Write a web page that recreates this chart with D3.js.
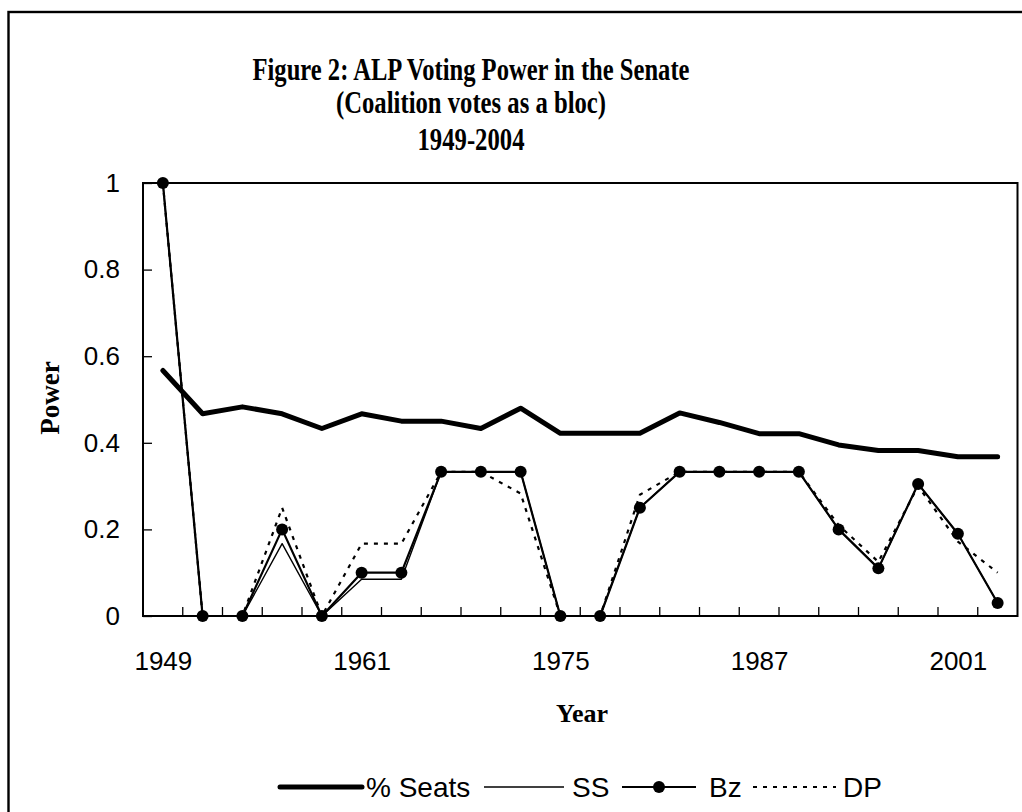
<!DOCTYPE html>
<html>
<head>
<meta charset="utf-8">
<script src="https://cdnjs.cloudflare.com/ajax/libs/d3/7.8.5/d3.min.js"></script>
<style>
  body { margin: 0; background: #fff; }
  svg { display: block; }
</style>
</head>
<body>
<svg id="chart"></svg>
<script>
// election years (category axis)
var years = [1949, 1951, 1953, 1955, 1958, 1961, 1964, 1967, 1970, 1974, 1975,
             1977, 1980, 1983, 1984, 1987, 1990, 1993, 1996, 1998, 2001, 2004];
var yearLabels = [1949, 1961, 1975, 1987, 2001];
var powerTicks = [0, 0.2, 0.4, 0.6, 0.8, 1];

var seats = [0.567, 0.467, 0.483, 0.467, 0.433, 0.467, 0.45, 0.45, 0.433, 0.48, 0.422,
             0.422, 0.422, 0.469, 0.447, 0.421, 0.421, 0.395, 0.382, 0.382, 0.368, 0.368];
var ss    = [1, 0, 0, 0.167, 0, 0.085, 0.085, 0.333, 0.333, 0.333, 0,
             0, 0.25, 0.333, 0.333, 0.333, 0.333, 0.2, 0.11, 0.305, 0.19, 0.03];
var bz    = [1, 0, 0, 0.2, 0, 0.1, 0.1, 0.333, 0.333, 0.333, 0,
             0, 0.25, 0.333, 0.333, 0.333, 0.333, 0.2, 0.11, 0.305, 0.19, 0.03];
var dp    = [1, 0, 0, 0.25, 0, 0.167, 0.167, 0.333, 0.333, 0.283, 0,
             0, 0.28, 0.333, 0.333, 0.333, 0.333, 0.21, 0.125, 0.3, 0.172, 0.1];

var seriesNames = ["% Seats", "SS", "Bz", "DP"];

var width = 1022, height = 812;
var svg = d3.select("#chart").attr("width", width).attr("height", height);

// outer chart frame (runs off the right/bottom of the picture)
svg.append("rect")
    .attr("x", 8.5).attr("y", 12)
    .attr("width", 1100).attr("height", 900)
    .style("fill", "none").style("stroke", "#000").style("stroke-width", 2.4);

var plot = {left: 143, top: 183, right: 1017.5, bottom: 616};

var x = d3.scalePoint()
    .domain(years)
    .range([plot.left, plot.right])
    .padding(0.5);
var y = d3.scaleLinear()
    .domain([0, 1])
    .range([plot.bottom, plot.top]);
var step = x.step();

// titles
var titleLines = [
  {text: "Figure 2: ALP Voting Power in the Senate", y: 80, len: 437},
  {text: "(Coalition votes as a bloc)", y: 113, len: 270},
  {text: "1949-2004", y: 150, len: 107}
];
svg.selectAll(".main_title")
    .data(titleLines)
    .enter().append("text")
    .attr("class", "main_title")
    .attr("x", 471)
    .attr("y", d => d.y)
    .attr("text-anchor", "middle")
    .attr("textLength", d => d.len)
    .attr("lengthAdjust", "spacingAndGlyphs")
    .style("font-family", "'Liberation Serif', 'Times New Roman', serif")
    .style("font-weight", "bold")
    .style("font-size", "31px")
    .text(d => d.text);

// plot frame
svg.append("rect")
    .attr("x", plot.left).attr("y", plot.top)
    .attr("width", plot.right - plot.left).attr("height", plot.bottom - plot.top)
    .style("fill", "none").style("stroke", "#000").style("stroke-width", 2);

// y axis, ticks point inward
var yAxis = svg.append("g")
    .attr("transform", "translate(" + plot.left + ",0)")
    .call(d3.axisLeft(y).tickValues(powerTicks).tickSize(-9).tickPadding(23)
      .tickFormat(d3.format("~g")));
yAxis.select(".domain").remove();
yAxis.selectAll("line").style("stroke", "#000").style("stroke-width", 1.3);
yAxis.selectAll("text")
    .style("font-family", "'Liberation Sans', Arial, sans-serif")
    .style("font-size", "26px")
    .style("fill", "#000");

// x axis labels
var xAxis = svg.append("g")
    .attr("transform", "translate(0," + plot.bottom + ")")
    .call(d3.axisBottom(x).tickValues(yearLabels).tickSize(0).tickPadding(36));
xAxis.select(".domain").remove();
xAxis.selectAll("text")
    .style("font-family", "'Liberation Sans', Arial, sans-serif")
    .style("font-size", "26px")
    .style("fill", "#000");

// x tick marks sit between categories
svg.append("g").selectAll("line")
    .data(years.slice(0, -1))
    .enter().append("line")
    .attr("x1", d => x(d) + step / 2)
    .attr("x2", d => x(d) + step / 2)
    .attr("y1", plot.bottom)
    .attr("y2", plot.bottom - 9)
    .style("stroke", "#000").style("stroke-width", 1.3);

// axis titles
svg.append("text")
    .attr("transform", "translate(59,398) rotate(-90)")
    .attr("text-anchor", "middle")
    .style("font-family", "'Liberation Serif', 'Times New Roman', serif")
    .style("font-weight", "bold")
    .style("font-size", "27px")
    .text("Power");
svg.append("text")
    .attr("x", 582)
    .attr("y", 722)
    .attr("text-anchor", "middle")
    .style("font-family", "'Liberation Serif', 'Times New Roman', serif")
    .style("font-weight", "bold")
    .style("font-size", "26px")
    .text("Year");

// series lines
var line = d3.line()
    .x((d, i) => x(years[i]))
    .y(d => y(d));

var styles = [
  {data: seats, width: 5, dash: null},
  {data: ss, width: 1.4, dash: null},
  {data: bz, width: 2.2, dash: null},
  {data: dp, width: 2.2, dash: "4,6"}
];

styles.forEach(function(s) {
  svg.append("path")
      .datum(s.data)
      .attr("d", line)
      .style("fill", "none")
      .style("stroke", "#000")
      .style("stroke-width", s.width)
      .style("stroke-linejoin", "round")
      .style("stroke-linecap", s.dash ? "butt" : "round")
      .style("stroke-dasharray", s.dash);
  if (s.data === bz) {
    svg.append("g").selectAll("circle")
        .data(bz)
        .enter().append("circle")
        .attr("cx", (d, i) => x(years[i]))
        .attr("cy", d => y(d))
        .attr("r", 6)
        .style("fill", "#000");
  }
});

// legend
var legendItems = [
  {x1: 280, x2: 362, tx: 366},
  {x1: 484, x2: 564, tx: 572},
  {x1: 622, x2: 696, tx: 709},
  {x1: 753, x2: 836, tx: 843}
];
var ly = 787;
var legend = svg.selectAll("g.legend")
    .data(legendItems)
    .enter().append("g")
    .attr("class", "legend");
legend.append("line")
    .attr("x1", d => d.x1).attr("x2", d => d.x2)
    .attr("y1", ly).attr("y2", ly)
    .style("stroke", "#000")
    .style("stroke-width", (d, i) => styles[i].width)
    .style("stroke-linecap", (d, i) => i == 0 ? "round" : "butt")
    .style("stroke-dasharray", (d, i) => styles[i].dash);
legend.filter((d, i) => i == 2).append("circle")
    .attr("cx", d => (d.x1 + d.x2) / 2)
    .attr("cy", ly)
    .attr("r", 6)
    .style("fill", "#000");
legend.append("text")
    .attr("x", d => d.tx)
    .attr("y", ly + 10)
    .style("font-family", "'Liberation Sans', Arial, sans-serif")
    .style("font-size", "28px")
    .text((d, i) => seriesNames[i]);
</script>
</body>
</html>
